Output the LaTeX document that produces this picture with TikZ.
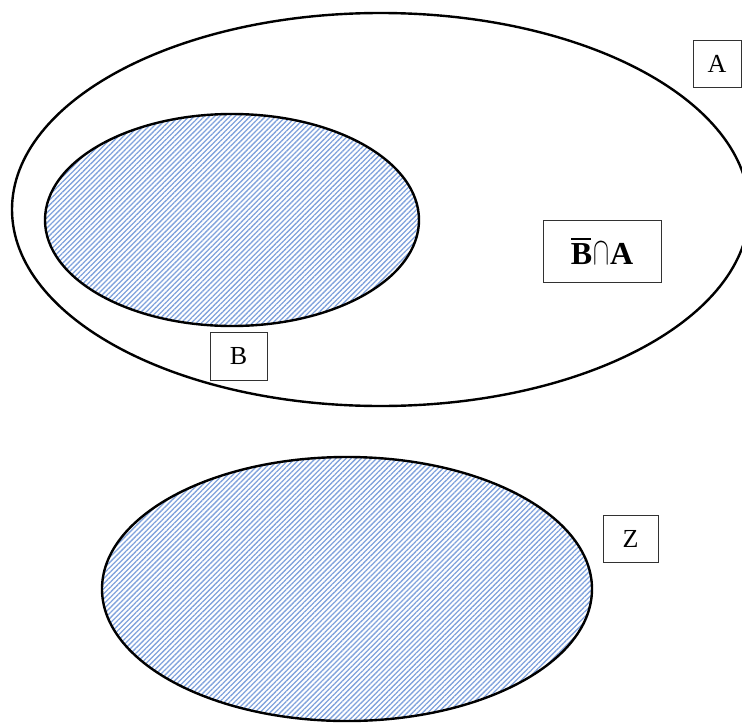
\documentclass[tikz,border=0pt]{standalone}
\usepackage{fontspec}
\setmainfont{Liberation Serif}
\usetikzlibrary{patterns.meta}
\definecolor{hatchblue}{RGB}{128,162,220}
\definecolor{boxline}{RGB}{50,50,50}
\tikzset{
  setline/.style={draw=black, line width=2.4pt},
  hatched/.style={pattern={Lines[angle=45, distance=3.6pt, line width=1.3pt]}, pattern color=hatchblue},
  labelbox/.style={draw=boxline, line width=1pt, rectangle, inner sep=0pt, font=\fontsize{26}{30}\selectfont},
}
\newcommand{\capglyph}{\resizebox{0.5em}{0.68em}{$\cap$}}
\newsavebox{\bbox}
\newcommand{\barredB}{\sbox{\bbox}{B}\rlap{\hspace{0.5pt}\raisebox{\dimexpr\ht\bbox+3.5pt\relax}{\rule{\dimexpr\wd\bbox-1.5pt\relax}{2pt}}}\usebox{\bbox}}
\begin{document}
\begin{tikzpicture}[x=1pt, y=-1pt]
\useasboundingbox (0,0) rectangle (742,723);
\clip (0,0) rectangle (742,723);
% set A
\draw[setline] (380.6,209.5) ellipse [x radius=368.6pt, y radius=196.5pt];
% set B
\filldraw[setline, hatched] (232,220) ellipse [x radius=187pt, y radius=106pt];
% set Z
\filldraw[setline, hatched] (347,589) ellipse [x radius=245pt, y radius=132pt];
% labels
\node[labelbox, minimum width=48pt, minimum height=47pt] (labA) at (717,63.5) {A};
\node[labelbox, minimum width=57pt, minimum height=48pt] (labB) at (238.5,356) {B};
\node[labelbox, minimum width=55pt, minimum height=47pt] (labZ) at (630.5,538.5) {Z};
\node[labelbox, minimum width=118pt, minimum height=62pt, font=\fontsize{32}{36}\selectfont\bfseries] (labBA) at (602,251)
  {\barredB\kern1pt\capglyph\kern1pt A};
\end{tikzpicture}
\end{document}
